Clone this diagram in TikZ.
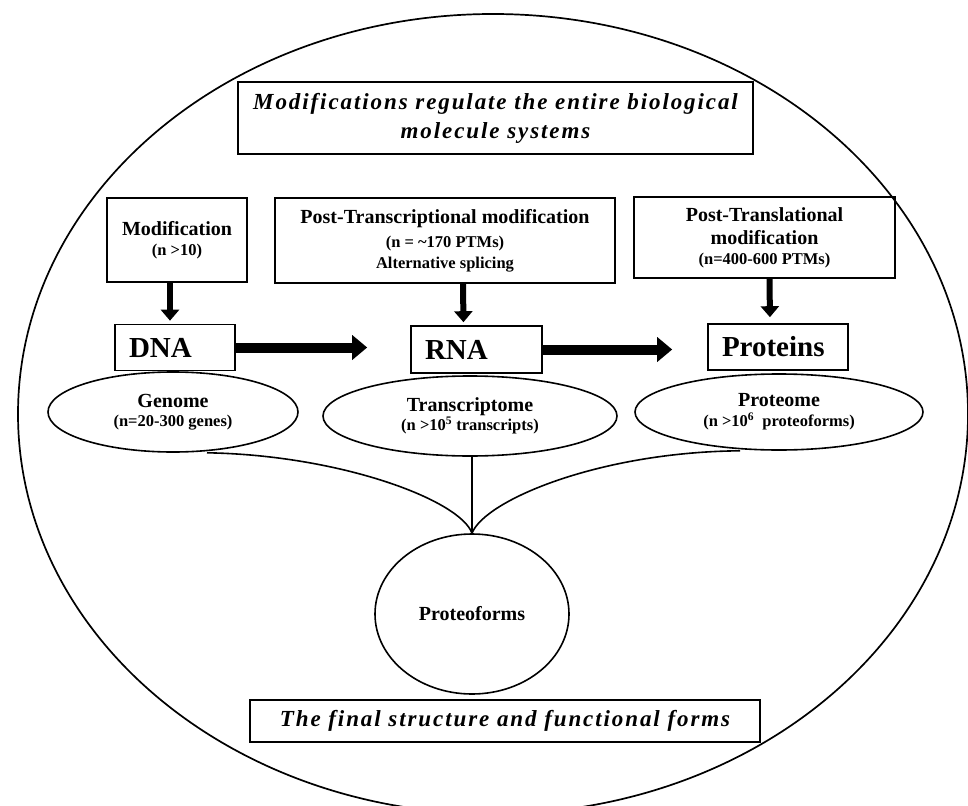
\documentclass[tikz,border=0pt]{standalone}
\usepackage{fontspec}
\setmainfont{Liberation Serif}
\newfontfamily\ttlfont{Liberation Serif}[LetterSpace=8.3]
\usetikzlibrary{arrows.meta,shapes.geometric,calc}
\newcommand\mhd{\fontsize{20}{20}\selectfont\bfseries}
\newcommand\msub{\fontsize{16.5}{20}\selectfont\bfseries}
\newcommand\mbig{\fontsize{29}{32}\selectfont\bfseries}
\newcommand\mttl{\fontsize{23}{29}\selectfont\ttlfont\bfseries\itshape}
\begin{document}
\begin{tikzpicture}[x=1pt,y=-1pt,
  box/.style={draw, line width=1.6pt, inner sep=0pt, align=center, font=\mhd},
  bigbox/.style={draw, line width=1.6pt, inner xsep=14pt, inner ysep=0pt, align=left, font=\mbig, anchor=center},
  oval/.style={draw, ellipse, line width=1.6pt, inner sep=0pt, align=center, font=\mhd},
  conn/.style={line width=1.6pt},
  harrow/.style={line width=10pt, -{Triangle[length=15pt,width=24pt]}},
  varrow/.style={line width=6pt, -{Triangle[length=11pt,width=18pt]}}]
\useasboundingbox (0,0) rectangle (968,805);
\draw[line width=1.7pt] (493,414) ellipse [x radius=475pt, y radius=400pt];

\node[box, font=\mttl, minimum width=515pt, minimum height=72pt] (title) at (495.5,118)
  {Modifications regulate the entire biological\\molecule systems};

\node[box, minimum width=140pt, minimum height=84pt] (mod) at (177,240)
  {Modification\\\msub (n >10)};
\node[box, minimum width=340pt, minimum height=85pt] (ptc) at (445,240.5)
  {Post-Transcriptional modification\\[4pt]\msub (n = \textasciitilde170 PTMs)\\[1pt]\msub Alternative splicing};
\node[box, minimum width=261pt, minimum height=81pt] (ptl) at (764.5,237.5)
  {Post-Translational\\[3pt]modification\\\msub (n=400-600 PTMs)};

\node[bigbox, text width=92pt, minimum height=46pt] (dna) at (175,347.5) {DNA};
\node[bigbox, text width=103pt, minimum height=47pt] (rna) at (476.5,349.5) {RNA};
\node[bigbox, text width=112pt, minimum height=46pt] (prot) at (778,347) {Proteins};

\node[oval, minimum width=250pt, minimum height=80pt] (gen) at (173,412)
  {Genome\\[-1pt]\msub (n=20-300 genes)};
\node[oval, minimum width=294pt, minimum height=80pt] (trans) at (470,416)
  {Transcriptome\\[-1pt]\msub (n >10\textsuperscript{5} transcripts)};
\node[oval, minimum width=288pt, minimum height=76pt] (prote) at (779,412)
  {Proteome\\\msub (n >10\textsuperscript{6}\ \ proteoforms)};

\node[oval, minimum width=194pt, minimum height=160pt] (pf) at (472,614)
  {Proteoforms};

\node[box, font=\mttl, minimum width=510pt, minimum height=42pt] (final) at (505,721)
  {The final structure and functional forms};

\draw[varrow, shorten >=3pt] ([xshift=-7pt]mod.south) -- ([xshift=-5pt]dna.north);
\draw[varrow, shorten >=3pt] ([xshift=18pt]ptc.south) -- ([xshift=-13pt]rna.north);
\draw[varrow, shorten >=6pt] ([xshift=5pt]ptl.south) -- ([xshift=-8pt]prot.north);
\draw[harrow, shorten >=43pt] (dna.east) -- (rna.west |- dna.east);
\draw[harrow, shorten >=35pt] (rna.east) -- (prot.west |- rna.east);

\draw[conn] ([xshift=34pt]gen.south) .. controls (340,455) and (460,500) .. (pf.north);
\draw[conn] (pf.north |- trans.south) -- (pf.north);
\draw[conn] ([xshift=-39pt]prote.south) .. controls (600,452) and (485,500) .. (pf.north);
\end{tikzpicture}
\end{document}
